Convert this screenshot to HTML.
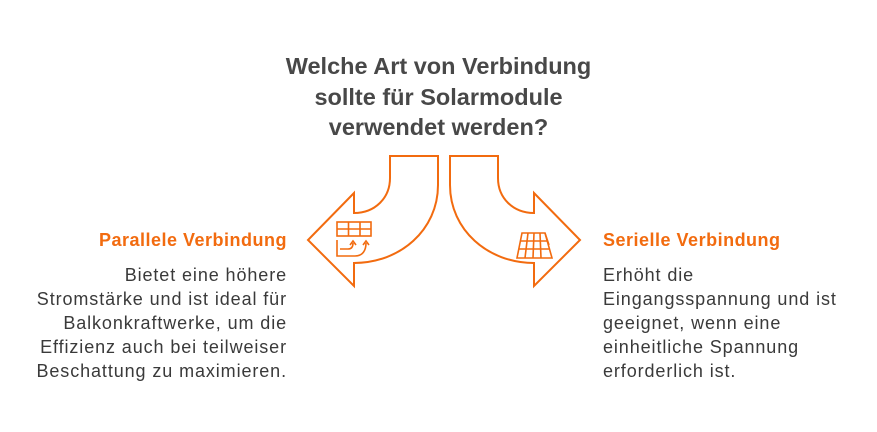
<!DOCTYPE html>
<html><head><meta charset="utf-8"><style>
body{margin:0;width:877px;height:432px;background:#fff;position:relative;font-family:"Liberation Sans",Arial,sans-serif;overflow:hidden}
.t{position:absolute;left:0;width:877px;top:51px;text-align:center;font-weight:bold;font-size:23.5px;line-height:30.5px;color:#484848}
.h{position:absolute;font-weight:bold;font-size:18px;letter-spacing:0.5px;color:#f26b0f}
.p{position:absolute;font-size:18px;letter-spacing:0.9px;line-height:24px;color:#3a3a3a;white-space:nowrap}
</style></head><body>
<div class="t">Welche Art von Verbindung<br>sollte für Solarmodule<br>verwendet werden?</div>
<svg width="877" height="432" style="position:absolute;left:0;top:0" fill="none" stroke="#f26b0f" stroke-width="2" stroke-linejoin="miter">
<path d="M390,156 L438,156 L438,185 C438,230 400,263 354,263 L354,286 L308,240 L354,193 L354,213 C375,213 390,198 390,178 Z"/>
<path d="M498,156 L450,156 L450,185 C450,230 488,263 534,263 L534,286 L580,240 L534,193 L534,213 C513,213 498,198 498,178 Z"/>
<g stroke-width="1.6">
<rect x="337" y="222" width="34" height="14"/><line x1="337" y1="229" x2="371" y2="229"/><line x1="348.5" y1="222" x2="348.5" y2="236"/><line x1="360" y1="222" x2="360" y2="236"/>
<path d="M337,240 V256 H355 C363,256 366,250 366,243"/><path d="M363,245 L366,241 L369,245"/>
<path d="M340,249 H348 C352,249 353,246 353,243"/><path d="M350,245 L353,241 L356,245"/>
<path d="M522,233 H545 L552,258 H517 Z"/><path d="M545,233 L549,245"/>
<line x1="520" y1="241" x2="547" y2="241"/><line x1="519" y1="249" x2="549" y2="249"/>
<line x1="528" y1="233" x2="525" y2="258"/><line x1="534" y1="233" x2="533" y2="258"/><line x1="540" y1="233" x2="541" y2="258"/>
</g>
</svg>
<div class="h" style="right:590px;top:230px">Parallele Verbindung</div>
<div class="p" style="right:590px;top:263px;text-align:right">Bietet eine höhere<br>Stromstärke und ist ideal für<br>Balkonkraftwerke, um die<br>Effizienz auch bei teilweiser<br>Beschattung zu maximieren.</div>
<div class="h" style="left:603px;top:230px">Serielle Verbindung</div>
<div class="p" style="left:603px;top:263px">Erhöht die<br>Eingangsspannung und ist<br>geeignet, wenn eine<br>einheitliche Spannung<br>erforderlich ist.</div>
</body></html>
